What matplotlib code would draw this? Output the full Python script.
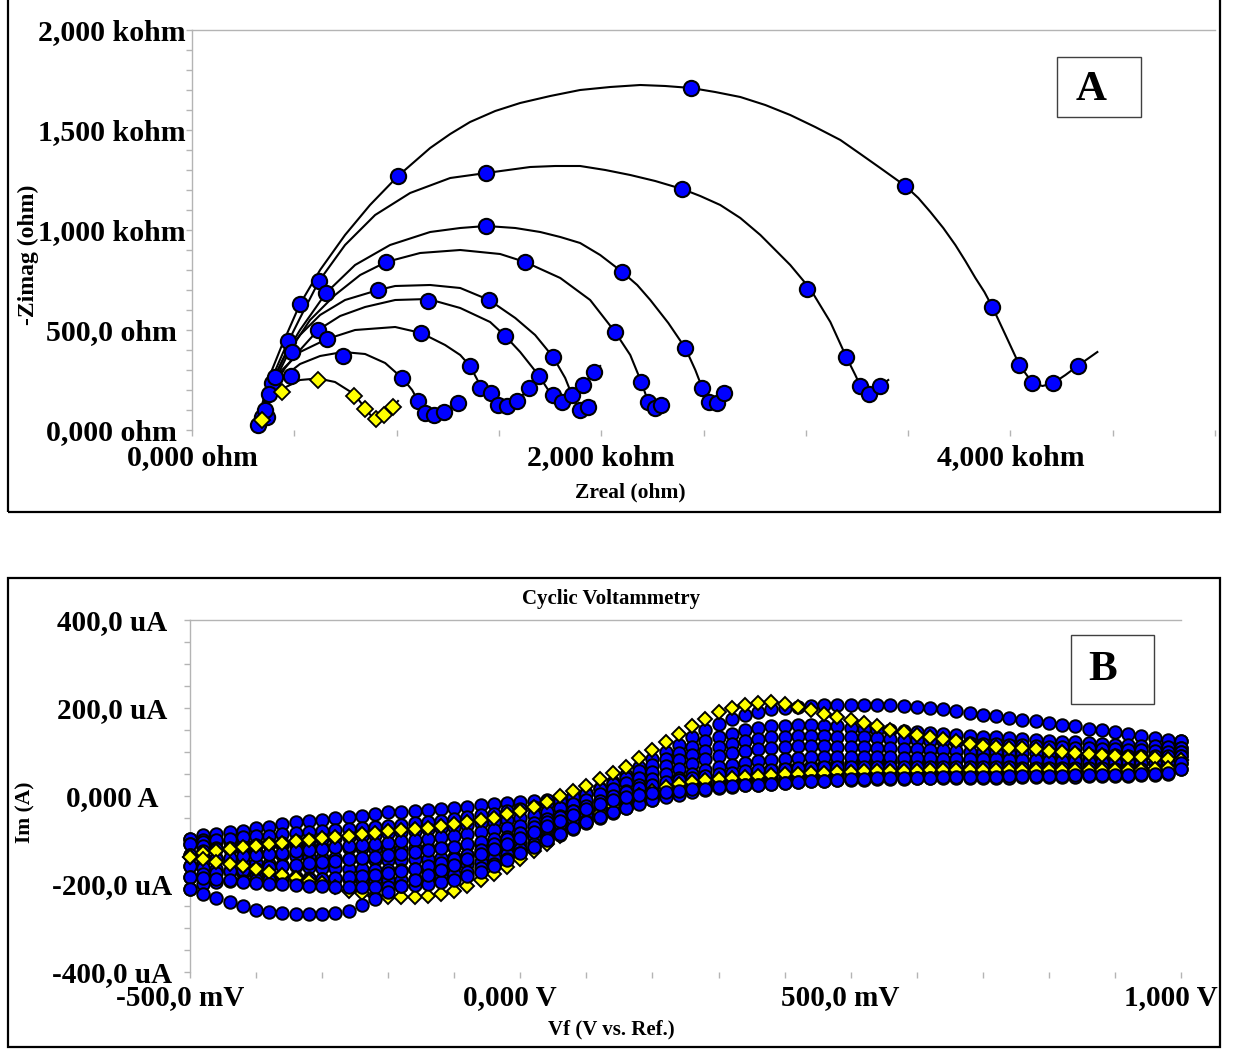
import matplotlib
matplotlib.use('Agg')
import matplotlib.pyplot as plt
import matplotlib.transforms as mtransforms
from matplotlib.patches import Rectangle
from matplotlib.ticker import FixedLocator, MultipleLocator

plt.rcParams['font.family'] = ['Liberation Serif', 'DejaVu Serif']
plt.rcParams['font.weight'] = 'bold'

# ---------------- Panel A data (ohm) ----------------
xA_ticks = [0, 2000, 4000]
xA_labels = ['0,000 ohm', '2,000 kohm', '4,000 kohm']
yA_ticks = [0, 500, 1000, 1500, 2000]
yA_labels = ['0,000 ohm', '500,0 ohm', '1,000 kohm', '1,500 kohm', '2,000 kohm']

yel_fit_x = [323, 342, 381, 440, 528, 616, 699, 792, 846, 880, 905, 939, 983, 1007]
yel_fit_y = [10, 90, 160, 205, 250, 258, 240, 180, 110, 65, 50, 75, 115, 145]
yel_pt_x = [342, 440, 616, 792, 846, 900, 939, 983]
yel_pt_y = [50, 190, 250, 170, 105, 55, 75, 115]

c1_fit_x = [323, 342, 381, 440, 528, 626, 738, 846, 944, 1027, 1076, 1105, 1139, 1183, 1232, 1301, 1320]
c1_fit_y = [10, 90, 175, 260, 330, 370, 390, 380, 335, 260, 200, 145, 95, 75, 90, 135, 150]
c1_pt_x = [323, 357, 738, 1027, 1105, 1139, 1183, 1232, 1301]
c1_pt_y = [25, 100, 370, 260, 145, 85, 75, 90, 135]

c2_fit_x = [323, 347, 381, 440, 528, 660, 797, 993, 1120, 1237, 1311, 1359, 1408, 1462, 1496, 1540, 1589, 1648, 1677]
c2_fit_y = [10, 100, 200, 300, 390, 455, 500, 515, 485, 425, 375, 320, 225, 175, 130, 120, 145, 210, 240]
c2_pt_x = [367, 660, 1120, 1359, 1408, 1462, 1496, 1540, 1589, 1648]
c2_pt_y = [65, 455, 485, 320, 210, 185, 125, 120, 145, 210]

c3_fit_x = [323, 352, 396, 455, 528, 616, 724, 846, 993, 1154, 1311, 1457, 1531, 1604, 1697, 1741, 1765, 1809, 1858, 1912, 1966, 1995]
c3_fit_y = [10, 110, 210, 310, 400, 500, 570, 615, 650, 655, 610, 540, 470, 390, 270, 200, 175, 140, 175, 225, 290, 320]
c3_pt_x = [484, 616, 1154, 1531, 1697, 1765, 1809, 1858, 1912, 1966]
c3_pt_y = [270, 500, 645, 470, 270, 175, 140, 175, 225, 290]

c4_fit_x = [323, 352, 396, 455, 528, 626, 748, 910, 993, 1164, 1311, 1452, 1580, 1677, 1765, 1824, 1863, 1897, 1936, 1966]
c4_fit_y = [10, 125, 250, 375, 475, 575, 650, 700, 720, 725, 710, 650, 560, 475, 365, 260, 160, 100, 115, 140]
c4_pt_x = [406, 910, 1452, 1765, 1897, 1936]
c4_pt_y = [265, 700, 650, 365, 100, 115]

c5_fit_x = [323, 357, 406, 479, 577, 699, 822, 949, 1115, 1311, 1506, 1628, 1800, 1946, 2068, 2142, 2196, 2230, 2264, 2293, 2318]
c5_fit_y = [10, 125, 250, 400, 550, 675, 775, 840, 885, 900, 880, 840, 760, 650, 490, 375, 240, 140, 110, 125, 150]
c5_pt_x = [377, 949, 1628, 2068, 2196, 2230, 2264, 2293]
c5_pt_y = [180, 840, 840, 490, 240, 140, 110, 125]

c6_fit_x = [323, 352, 396, 455, 528, 655, 797, 968, 1164, 1311, 1438, 1580, 1702, 1800, 1897, 1995, 2103, 2176, 2240, 2328, 2411, 2460, 2494, 2528, 2567, 2601, 2631]
c6_fit_y = [10, 125, 250, 375, 500, 685, 825, 925, 990, 1010, 1020, 1010, 990, 965, 935, 875, 790, 725, 650, 535, 410, 300, 210, 140, 135, 185, 210]
c6_pt_x = [391, 655, 1438, 2103, 2411, 2494, 2528, 2567, 2601]
c6_pt_y = [235, 685, 1020, 790, 410, 210, 140, 135, 185]

c7_fit_x = [323, 347, 391, 455, 528, 621, 748, 895, 1066, 1262, 1438, 1653, 1775, 1897, 2020, 2142, 2264, 2396, 2484, 2582, 2680, 2778, 2851, 2924, 3022, 3120, 3198, 3242, 3267, 3311, 3364, 3403]
c7_fit_y = [10, 125, 260, 410, 560, 745, 925, 1075, 1185, 1260, 1285, 1315, 1320, 1320, 1300, 1275, 1245, 1205, 1170, 1125, 1060, 975, 900, 825, 705, 540, 365, 275, 220, 180, 220, 250]
c7_pt_x = [489, 621, 1438, 2396, 3007, 3198, 3267, 3311, 3364]
c7_pt_y = [390, 745, 1285, 1205, 705, 365, 220, 180, 220]

c8_fit_x = [323, 342, 381, 440, 528, 626, 748, 870, 1007, 1164, 1262, 1359, 1482, 1604, 1751, 1897, 2044, 2191, 2313, 2440, 2557, 2680, 2802, 2924, 3046, 3169, 3267, 3364, 3487, 3550, 3609, 3672, 3731, 3780, 3829, 3873, 3912, 3976, 4044, 4108, 4157, 4210, 4269, 4328, 4425]
c8_fit_y = [10, 125, 275, 425, 630, 800, 975, 1125, 1270, 1410, 1480, 1540, 1595, 1635, 1670, 1700, 1715, 1725, 1720, 1710, 1690, 1665, 1625, 1575, 1515, 1450, 1380, 1310, 1220, 1160, 1090, 1010, 925, 845, 760, 690, 615, 475, 325, 235, 220, 235, 275, 320, 390]
c8_pt_x = [342, 469, 528, 1007, 2440, 3487, 3912, 4044, 4108, 4210, 4328]
c8_pt_y = [65, 445, 630, 1270, 1710, 1220, 615, 325, 235, 235, 320]

# ---------------- Panel B data (mV, uA) ----------------
xB_ticks = [-500, 0, 500, 1000]
xB_labels = ['-500,0 mV', '0,000 V', '500,0 mV', '1,000 V']
yB_ticks = [-400, -200, 0, 200, 400]
yB_labels = ['-400,0 uA', '-200,0 uA', '0,000 A', '200,0 uA', '400,0 uA']

E_mV = list(range(-500, 1001, 20))

yel_up = [-139, -130, -124, -120, -116, -113, -110, -106, -103, -99,
          -95, -93, -90, -87, -84, -80, -78, -75, -72, -69,
          -64, -60, -55, -49, -42, -34, -24, -13, 0, 12,
          23, 38, 52, 67, 86, 105, 122, 140, 158, 175,
          191, 200, 207, 211, 213, 209, 203, 195, 186, 179,
          173, 166, 158, 150, 145, 139, 134, 129, 124, 119,
          114, 112, 110, 108, 106, 102, 100, 98, 96, 93,
          90, 89, 88, 86, 84, 82]
yel_dn = [-139, -143, -150, -155, -159, -166, -173, -180, -186, -193,
          -198, -207, -216, -220, -227, -230, -230, -230, -227, -223,
          -216, -205, -191, -177, -161, -143, -125, -109, -91, -72,
          -55, -39, -23, -9, 2, 11, 20, 27, 32, 36,
          39, 42, 44, 46, 48, 50, 51, 52, 53, 54,
          55, 56, 56, 57, 57, 57, 58, 58, 58, 58,
          58, 58, 58, 58, 58, 58, 58, 58, 58, 59,
          59, 60, 60, 61, 63, 82]

b1_up = [-98, -89, -86, -82, -80, -73, -70, -64, -59, -57,
         -55, -50, -48, -45, -41, -37, -36, -34, -32, -30,
         -27, -25, -21, -18, -15, -14, -12, -9, -5, 0,
         7, 18, 32, 48, 66, 84, 100, 117, 133, 149,
         164, 175, 185, 192, 197, 200, 202, 204, 206, 207,
         207, 207, 207, 206, 204, 202, 200, 197, 194, 189,
         184, 181, 177, 173, 170, 166, 162, 158, 153, 149,
         145, 141, 136, 132, 128, 125]
b1_dn = [-98, -101, -103, -105, -107, -108, -110, -112, -113, -115,
         -116, -117, -118, -119, -120, -120, -120, -119, -118, -117,
         -115, -112, -108, -103, -97, -90, -81, -72, -62, -51,
         -40, -29, -19, -9, 1, 10, 18, 25, 32, 39,
         45, 49, 53, 57, 61, 65, 67, 69, 71, 73,
         75, 76, 77, 78, 79, 80, 80, 81, 81, 82,
         82, 82, 83, 83, 84, 84, 84, 85, 85, 85,
         86, 86, 87, 88, 90, 125]

b2_up = [-110, -104, -100, -97, -94, -92, -90, -87, -85, -82,
         -80, -78, -75, -73, -70, -68, -65, -62, -59, -56,
         -52, -48, -44, -40, -35, -30, -24, -18, -11, -3,
         5, 16, 28, 42, 56, 70, 84, 98, 112, 124,
         135, 142, 149, 154, 158, 160, 161, 161, 160, 158,
         155, 153, 151, 149, 147, 145, 143, 141, 139, 137,
         135, 133, 131, 129, 127, 125, 123, 122, 120, 118,
         117, 115, 114, 113, 111, 110]
b2_dn = [-110, -114, -118, -121, -125, -128, -131, -133, -136, -138,
         -140, -141, -143, -144, -145, -145, -145, -144, -143, -141,
         -138, -134, -129, -123, -115, -105, -94, -83, -72, -61,
         -50, -39, -29, -19, -9, 0, 8, 15, 22, 29,
         35, 39, 43, 46, 49, 52, 54, 56, 57, 59,
         60, 61, 62, 62, 63, 64, 64, 65, 65, 66,
         67, 67, 68, 68, 69, 70, 70, 71, 71, 72,
         73, 73, 74, 75, 78, 110]

b3_up = [-135, -126, -121, -118, -115, -112, -109, -106, -103, -100,
         -98, -95, -93, -90, -88, -85, -82, -79, -76, -73,
         -70, -66, -62, -58, -54, -50, -43, -36, -28, -18,
         -8, 4, 16, 29, 42, 55, 68, 81, 93, 103,
         112, 119, 125, 130, 133, 135, 136, 136, 136, 135,
         134, 133, 131, 130, 128, 127, 125, 124, 122, 121,
         119, 118, 116, 115, 113, 112, 111, 110, 108, 107,
         106, 105, 104, 102, 101, 100]
b3_dn = [-135, -139, -142, -146, -149, -152, -154, -157, -159, -161,
         -163, -164, -165, -167, -168, -168, -168, -167, -165, -163,
         -160, -155, -149, -141, -131, -120, -108, -96, -84, -72,
         -60, -48, -37, -26, -15, -5, 3, 10, 17, 23,
         28, 31, 34, 37, 40, 42, 44, 46, 47, 49,
         50, 51, 51, 52, 53, 54, 54, 55, 55, 56,
         56, 56, 57, 57, 58, 58, 58, 59, 59, 59,
         60, 60, 61, 62, 65, 100]

b4_up = [-160, -150, -144, -140, -137, -135, -132, -129, -126, -123,
         -120, -117, -114, -111, -109, -106, -103, -100, -97, -94,
         -90, -86, -82, -78, -73, -68, -61, -53, -45, -35,
         -25, -14, -2, 11, 25, 38, 50, 62, 73, 83,
         92, 98, 103, 107, 110, 112, 113, 113, 113, 112,
         112, 111, 110, 109, 107, 106, 105, 104, 102, 101,
         100, 99, 98, 98, 97, 96, 95, 95, 94, 93,
         93, 92, 92, 91, 91, 90]
b4_dn = [-160, -164, -167, -171, -175, -178, -180, -182, -185, -187,
         -188, -189, -189, -190, -190, -190, -190, -189, -186, -183,
         -178, -172, -164, -154, -143, -130, -116, -102, -89, -75,
         -62, -50, -38, -27, -17, -8, 0, 7, 12, 17,
         22, 25, 28, 31, 34, 36, 38, 39, 41, 42,
         43, 44, 44, 45, 46, 47, 47, 48, 48, 49,
         49, 49, 50, 50, 51, 51, 51, 52, 52, 52,
         53, 53, 54, 55, 58, 90]

b5_up = [-184, -177, -174, -171, -168, -165, -162, -159, -156, -153,
         -150, -147, -144, -141, -138, -135, -131, -127, -123, -119,
         -115, -110, -104, -98, -93, -88, -80, -72, -63, -53,
         -42, -30, -18, -6, 6, 18, 29, 40, 50, 58,
         65, 70, 75, 79, 82, 85, 87, 88, 89, 89,
         89, 89, 88, 88, 87, 87, 86, 85, 85, 84,
         83, 83, 82, 81, 81, 80, 79, 79, 78, 78,
         77, 77, 76, 76, 75, 75]
b5_dn = [-184, -187, -189, -192, -195, -198, -199, -201, -203, -204,
         -205, -206, -207, -207, -207, -206, -204, -202, -199, -195,
         -190, -182, -172, -160, -146, -130, -115, -100, -86, -73,
         -60, -48, -37, -27, -18, -10, -3, 3, 9, 14,
         18, 21, 24, 26, 28, 30, 32, 33, 34, 36,
         37, 37, 38, 38, 39, 40, 40, 40, 41, 41,
         42, 42, 42, 43, 43, 44, 44, 44, 45, 45,
         46, 46, 47, 47, 50, 75]

b6_up = [-211, -200, -196, -194, -193, -192, -191, -190, -190, -189,
         -188, -186, -184, -182, -179, -175, -171, -166, -160, -152,
         -143, -133, -122, -110, -97, -84, -71, -59, -47, -34,
         -22, -11, 0, 9, 18, 25, 31, 36, 41, 46,
         50, 53, 56, 58, 60, 62, 63, 64, 65, 65,
         66, 66, 66, 66, 66, 66, 66, 66, 65, 65,
         65, 65, 65, 64, 64, 64, 64, 63, 63, 63,
         62, 62, 62, 62, 61, 61]
b6_dn = [-211, -223, -232, -241, -250, -259, -264, -266, -268, -268,
         -268, -266, -261, -248, -233, -218, -205, -192, -180, -168,
         -156, -144, -132, -120, -108, -95, -82, -69, -56, -43,
         -30, -19, -10, -3, 2, 6, 9, 12, 15, 17,
         20, 22, 24, 26, 28, 30, 32, 33, 35, 36,
         38, 39, 40, 40, 41, 42, 42, 43, 43, 44,
         44, 44, 45, 45, 45, 46, 46, 47, 47, 47,
         48, 48, 49, 50, 52, 61]

# ---------------- Figure ----------------
W, H = 1238, 1049
fig = plt.figure(figsize=(W / 100, H / 100), dpi=100)


def fx(px):
    return px / W


def fy(py):
    return 1 - py / H


BLUE = '#0000ff'
YEL = '#ffff00'
GRAY = '#b4b4b4'
TICKFS = 21.5

# outer frames
fig.add_artist(Rectangle((fx(8), fy(512)), fx(1220) - fx(8), fy(-4) - fy(512),
                         transform=fig.transFigure, fill=False, ec='black', lw=1.6))
fig.add_artist(Rectangle((fx(8), fy(1047)), fx(1220) - fx(8), fy(578) - fy(1047),
                         transform=fig.transFigure, fill=False, ec='black', lw=1.6))

# ---- Panel A ----
axA = fig.add_axes([fx(192), fy(430), fx(1215) - fx(192), fy(30) - fy(430)])
axA.set_xlim(0, 5000)
axA.set_ylim(0, 2000)
curvesA = [
    (c8_fit_x, c8_fit_y, c8_pt_x, c8_pt_y),
    (c7_fit_x, c7_fit_y, c7_pt_x, c7_pt_y),
    (c6_fit_x, c6_fit_y, c6_pt_x, c6_pt_y),
    (c5_fit_x, c5_fit_y, c5_pt_x, c5_pt_y),
    (c4_fit_x, c4_fit_y, c4_pt_x, c4_pt_y),
    (c3_fit_x, c3_fit_y, c3_pt_x, c3_pt_y),
    (c2_fit_x, c2_fit_y, c2_pt_x, c2_pt_y),
    (c1_fit_x, c1_fit_y, c1_pt_x, c1_pt_y),
]
for fxs, fys, pxs, pys in curvesA:
    axA.plot(fxs, fys, color='black', lw=1.5, zorder=2, clip_on=False,
             solid_joinstyle='round')
for fxs, fys, pxs, pys in curvesA:
    axA.plot(pxs, pys, ls='none', marker='o', ms=11, mfc=BLUE, mec='black',
             mew=1.5, zorder=3, clip_on=False)
axA.plot(yel_fit_x, yel_fit_y, color='black', lw=1.5, zorder=2, clip_on=False,
         solid_joinstyle='round')
axA.plot(yel_pt_x, yel_pt_y, ls='none', marker='D', ms=8, mfc=YEL, mec='black',
         mew=1.3, zorder=4, clip_on=False)

for s in ['bottom', 'right']:
    axA.spines[s].set_visible(False)
for s in ['top', 'left']:
    axA.spines[s].set_color(GRAY)
    axA.spines[s].set_linewidth(1.0)
axA.xaxis.set_major_locator(FixedLocator(xA_ticks))
axA.xaxis.set_minor_locator(MultipleLocator(500))
axA.yaxis.set_major_locator(FixedLocator(yA_ticks))
axA.yaxis.set_minor_locator(MultipleLocator(100))
axA.set_xticklabels(xA_labels)
axA.set_yticklabels(yA_labels)
axA.tick_params(which='both', direction='out', length=4, width=1, color=GRAY)
axA.tick_params(axis='x', labelsize=TICKFS, pad=6)
axA.tick_params(axis='y', labelsize=TICKFS, pad=54)
for lbl in axA.get_yticklabels():
    lbl.set_ha('center')
    lbl.set_fontweight('bold')
for lbl in axA.get_xticklabels():
    lbl.set_fontweight('bold')

fig.text(fx(630), fy(492), 'Zreal (ohm)', ha='center', va='center', fontsize=15.5, fontweight='bold')
fig.text(fx(28), fy(255), '-Zimag (ohm)', ha='center', va='center', rotation=90,
         fontsize=17, fontweight='bold')
fig.add_artist(Rectangle((fx(1057), fy(117)), fx(1141) - fx(1057), fy(57) - fy(117),
                         transform=fig.transFigure, fill=False, ec='#404040', lw=1.0))
fig.text(fx(1091), fy(90), 'A', ha='center', va='center', fontsize=31, fontweight='bold')

# ---- Panel B ----
axB = fig.add_axes([fx(190), fy(972), fx(1181) - fx(190), fy(620) - fy(972)])
axB.set_xlim(-500, 1000)
axB.set_ylim(-400, 400)


def draw(vals, face, mk, ms, z):
    axB.plot(E_mV, vals, ls='none', marker=mk, ms=ms, mfc=face, mec='black',
             mew=1.4, zorder=z, clip_on=False)


z = 3
for br in [b1_up, b1_dn, b2_up, b2_dn, b3_up, b3_dn, b4_up, b4_dn, b5_up, b6_up]:
    draw(br, BLUE, 'o', 9, z)
    z += 0.01
for br in [yel_up, yel_dn]:
    draw(br, YEL, 'D', 6.8, z)
    z += 0.01
for br in [b5_dn, b6_dn]:
    draw(br, BLUE, 'o', 9, z)
    z += 0.01

for s in ['bottom', 'right']:
    axB.spines[s].set_visible(False)
for s in ['top', 'left']:
    axB.spines[s].set_color(GRAY)
    axB.spines[s].set_linewidth(1.0)
axB.xaxis.set_major_locator(FixedLocator(xB_ticks))
axB.xaxis.set_minor_locator(MultipleLocator(100))
axB.yaxis.set_major_locator(FixedLocator(yB_ticks))
axB.yaxis.set_minor_locator(MultipleLocator(50))
axB.set_xticklabels(xB_labels)
axB.set_yticklabels(yB_labels)
axB.tick_params(which='both', direction='out', length=4, width=1, color=GRAY)
axB.tick_params(axis='x', labelsize=TICKFS - 0.5, pad=5)
axB.tick_params(axis='y', labelsize=TICKFS - 0.5, pad=52)
for lbl in axB.get_yticklabels():
    lbl.set_ha('center')
    lbl.set_fontweight('bold')
shift = mtransforms.ScaledTranslation(-10 / 100, 0, fig.dpi_scale_trans)
for lbl in axB.get_xticklabels():
    lbl.set_fontweight('bold')
    lbl.set_transform(lbl.get_transform() + shift)

fig.text(fx(611), fy(599), 'Cyclic Voltammetry', ha='center', va='center', fontsize=15, fontweight='bold')
fig.text(fx(611), fy(1029), 'Vf (V vs. Ref.)', ha='center', va='center', fontsize=15, fontweight='bold')
fig.text(fx(25), fy(812), 'Im (A)', ha='center', va='center', rotation=90, fontsize=15.5, fontweight='bold')
fig.add_artist(Rectangle((fx(1071), fy(704)), fx(1154) - fx(1071), fy(635) - fy(704),
                         transform=fig.transFigure, fill=False, ec='#404040', lw=1.0))
fig.text(fx(1103), fy(670), 'B', ha='center', va='center', fontsize=31, fontweight='bold')

fig.savefig('out.png', dpi=100, facecolor='white')
